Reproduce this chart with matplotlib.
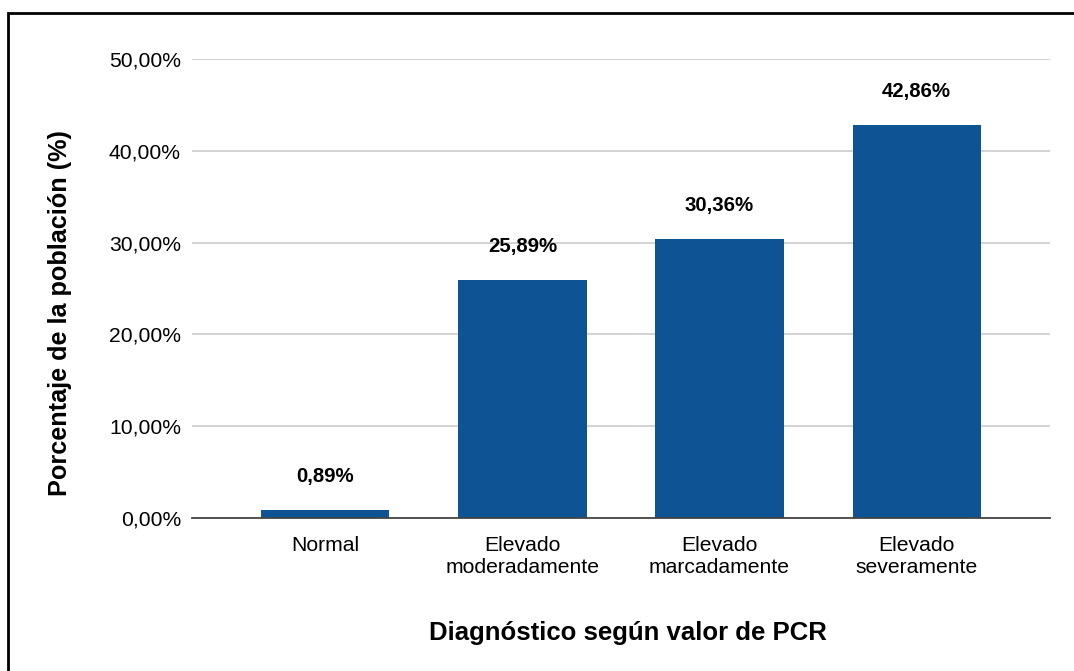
import matplotlib.pyplot as plt
from matplotlib.patches import Rectangle
from matplotlib.ticker import FuncFormatter

categories = ["Normal", "Elevado\nmoderadamente", "Elevado\nmarcadamente", "Elevado\nseveramente"]
values = [0.89, 25.89, 30.36, 42.86]
yticks = [0, 10, 20, 30, 40, 50]

plt.rcParams['font.family'] = ['Liberation Sans', 'DejaVu Sans']

fig = plt.figure(figsize=(10.74, 6.71), dpi=100)
W, H = 1074, 671
ax = fig.add_axes([192 / W, 1 - 518 / H, (1050 - 192) / W, (518 - 59) / H])

x = range(len(categories))
bars = ax.bar(x, values, width=0.65, color='#0e5494', zorder=3)

for i, v in enumerate(values):
    ax.annotate(f"{v:.2f}".replace('.', ',') + "%", (i, v), xytext=(0, 24),
                textcoords='offset points', ha='center', va='center',
                fontsize=14.7, fontweight='bold')

ax.set_xlim(-0.677, 3.677)
ax.set_ylim(0, 50)
ax.set_yticks(yticks)
ax.yaxis.set_major_formatter(FuncFormatter(lambda v, p: f"{v:.2f}".replace('.', ',') + "%"))
ax.set_xticks(list(x))
ax.set_xticklabels(categories, fontsize=15.2, linespacing=1.2)
ax.tick_params(axis='y', labelsize=15.2, length=0, pad=8)
ax.tick_params(axis='x', length=0, pad=13)
ax.grid(axis='y', color='#cccccc', linewidth=1.2, zorder=0)
for s in ['top', 'right', 'left']:
    ax.spines[s].set_visible(False)
ax.spines['bottom'].set_color('#444444')
ax.spines['bottom'].set_linewidth(1.3)
ax.spines['bottom'].set_zorder(4)

fig.text(60 / W, 1 - 313 / H, "Porcentaje de la población (%)", fontsize=18.2,
         fontweight='bold', ha='center', va='center', rotation=90)
fig.text(628 / W, 1 - 633 / H, "Diagnóstico según valor de PCR", fontsize=18.5,
         fontweight='bold', ha='center', va='center')

fig.patches.append(Rectangle((8 / W, -0.1), 1.2, 1 - 13 / H + 0.1, transform=fig.transFigure,
                             fill=False, edgecolor='black', linewidth=2))

fig.savefig("out.png", dpi=100)
